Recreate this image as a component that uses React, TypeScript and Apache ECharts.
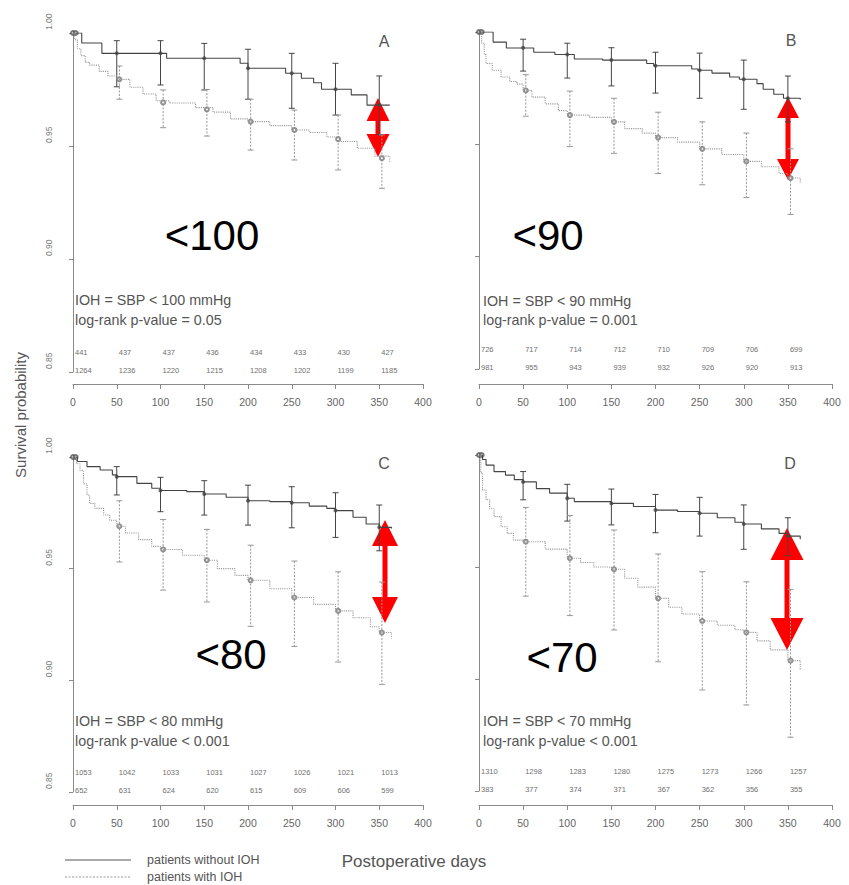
import React, { useEffect, useRef } from "react";
import * as echarts from "echarts";

// ---------- data ----------
const xTicks = [0, 50, 100, 150, 200, 250, 300, 350, 400];
const riskDays = [0, 50, 100, 150, 200, 250, 300, 350];
const ciDays = [50, 100, 150, 200, 250, 300, 350];
const yTicks = [0.85, 0.9, 0.95, 1.0];

// Panel A (SBP < 100)
const aNoCurve = [[0, 1], [10, 0.9956], [33, 0.991], [107, 0.9888], [191, 0.9866], [200, 0.9844], [243, 0.9822], [261, 0.98], [275, 0.978], [284, 0.9751], [318, 0.9726], [336, 0.9681], [362, 0.9681]];
const aIohCurve = [[0, 1], [2, 0.997], [5, 0.993], [9, 0.99], [14, 0.987], [19, 0.9858], [30, 0.983], [40, 0.981], [50, 0.9795], [65, 0.976], [80, 0.973], [95, 0.97], [110, 0.969], [140, 0.967], [160, 0.965], [180, 0.962], [200, 0.9608], [225, 0.959], [250, 0.9571], [270, 0.956], [290, 0.954], [305, 0.952], [325, 0.949], [345, 0.9455], [362, 0.943]];
const aNoEst = [0.991, 0.991, 0.9888, 0.9844, 0.9822, 0.9751, 0.9681];
const aNoLo = [0.9762, 0.977, 0.9748, 0.9707, 0.9667, 0.9637, 0.955];
const aNoHi = [0.9966, 0.9966, 0.9954, 0.9928, 0.991, 0.9866, 0.981];
const aIohEst = [0.9795, 0.9693, 0.9662, 0.9608, 0.9571, 0.953, 0.9446];
const aIohLo = [0.9707, 0.9581, 0.9544, 0.9482, 0.9438, 0.9394, 0.9313];
const aIohHi = [0.9854, 0.9748, 0.975, 0.9707, 0.9659, 0.9637, 0.9549];
const aRiskNo = [441, 437, 437, 436, 434, 433, 430, 427];
const aRiskIoh = [1264, 1236, 1220, 1215, 1208, 1202, 1199, 1185];

// Panel B (SBP < 90)
const bNoCurve = [[0, 1], [16, 0.9955], [31, 0.9929], [62, 0.991], [86, 0.99], [108, 0.988], [140, 0.9875], [190, 0.986], [198, 0.985], [241, 0.9835], [248, 0.983], [264, 0.9817], [284, 0.98], [295, 0.979], [315, 0.977], [322, 0.9745], [334, 0.9723], [345, 0.9705], [364, 0.9698]];
const bIohCurve = [[0, 1], [3, 0.995], [6, 0.99], [8, 0.986], [15, 0.983], [25, 0.98], [35, 0.978], [43, 0.9768], [50, 0.974], [60, 0.971], [75, 0.968], [90, 0.965], [100, 0.963], [125, 0.962], [150, 0.96], [165, 0.957], [185, 0.955], [200, 0.953], [225, 0.951], [250, 0.948], [275, 0.9455], [300, 0.9424], [320, 0.94], [340, 0.937], [350, 0.935], [364, 0.933]];
const bNoEst = [0.993, 0.99, 0.9875, 0.985, 0.983, 0.979, 0.9705];
const bNoLo = [0.9826, 0.9795, 0.976, 0.9728, 0.9705, 0.9656, 0.96];
const bNoHi = [0.9968, 0.995, 0.993, 0.991, 0.9906, 0.9875, 0.9804];
const bIohEst = [0.974, 0.963, 0.96, 0.953, 0.948, 0.9424, 0.935];
const bIohLo = [0.9625, 0.949, 0.946, 0.937, 0.932, 0.9263, 0.9188];
const bIohHi = [0.981, 0.9737, 0.9705, 0.9643, 0.96, 0.955, 0.948];
const bRiskNo = [726, 717, 714, 712, 710, 709, 706, 699];
const bRiskIoh = [981, 955, 943, 939, 932, 926, 920, 913];

// Panel C (SBP < 80)
const cNoCurve = [[0, 1], [5, 0.998], [16, 0.9957], [31, 0.9942], [45, 0.992], [50, 0.9912], [73, 0.9882], [90, 0.986], [100, 0.985], [130, 0.9845], [150, 0.9834], [175, 0.982], [200, 0.9804], [225, 0.98], [250, 0.9795], [270, 0.978], [290, 0.977], [300, 0.976], [320, 0.973], [335, 0.97], [350, 0.9685], [364, 0.968]];
const cIohCurve = [[0, 1], [4, 0.997], [8, 0.994], [12, 0.988], [16, 0.983], [19, 0.9792], [25, 0.977], [35, 0.974], [42, 0.9717], [50, 0.969], [60, 0.966], [75, 0.963], [90, 0.96], [100, 0.9586], [125, 0.956], [150, 0.9538], [165, 0.95], [185, 0.947], [200, 0.9448], [225, 0.941], [250, 0.9371], [275, 0.934], [300, 0.9311], [320, 0.928], [340, 0.924], [350, 0.9214], [364, 0.9187]];
const cNoEst = [0.9912, 0.985, 0.9834, 0.9804, 0.9795, 0.976, 0.9685];
const cNoLo = [0.983, 0.9755, 0.974, 0.9695, 0.9683, 0.964, 0.958];
const cNoHi = [0.9957, 0.9909, 0.9894, 0.9874, 0.9867, 0.984, 0.9785];
const cIohEst = [0.969, 0.9586, 0.9538, 0.9448, 0.9371, 0.9311, 0.9214];
const cIohLo = [0.953, 0.9404, 0.9351, 0.9242, 0.9152, 0.9082, 0.8982];
const cIohHi = [0.9804, 0.972, 0.9676, 0.9605, 0.9534, 0.9486, 0.944];
const cRiskNo = [1053, 1042, 1033, 1031, 1027, 1026, 1021, 1013];
const cRiskIoh = [652, 631, 624, 620, 615, 609, 606, 599];

// Panel D (SBP < 70)
const dNoCurve = [[0, 1], [4, 0.998], [8, 0.9955], [17, 0.9926], [30, 0.991], [40, 0.989], [50, 0.988], [65, 0.985], [80, 0.983], [100, 0.9807], [108, 0.9792], [150, 0.9784], [175, 0.977], [200, 0.9754], [225, 0.9748], [250, 0.974], [270, 0.972], [290, 0.97], [300, 0.9692], [320, 0.967], [340, 0.965], [350, 0.9638], [364, 0.9624]];
const dIohCurve = [[0, 1], [2, 0.992], [4, 0.9844], [8, 0.98], [12, 0.976], [17, 0.9725], [25, 0.968], [32, 0.965], [39, 0.962], [50, 0.9613], [75, 0.958], [100, 0.9539], [115, 0.952], [130, 0.95], [150, 0.949], [165, 0.945], [180, 0.941], [200, 0.936], [215, 0.932], [230, 0.929], [250, 0.9259], [270, 0.924], [290, 0.922], [300, 0.9208], [315, 0.917], [330, 0.913], [350, 0.9082], [364, 0.904]];
const dNoEst = [0.988, 0.9807, 0.9784, 0.9754, 0.974, 0.9692, 0.9638];
const dNoLo = [0.98, 0.9705, 0.9688, 0.9653, 0.9638, 0.9579, 0.955];
const dNoHi = [0.9926, 0.9869, 0.9848, 0.9824, 0.9811, 0.9777, 0.972];
const dIohEst = [0.9613, 0.9539, 0.949, 0.936, 0.9259, 0.9208, 0.9082];
const dIohLo = [0.937, 0.9283, 0.9219, 0.9077, 0.8951, 0.8884, 0.874];
const dIohHi = [0.9766, 0.973, 0.9665, 0.9558, 0.9479, 0.9434, 0.94];
const dRiskNo = [1310, 1298, 1283, 1280, 1275, 1273, 1266, 1257];
const dRiskIoh = [383, 377, 374, 371, 367, 362, 356, 355];

const letters = ["A", "B", "C", "D"];
const thresholds = ["<100", "<90", "<80", "<70"];
const iohTexts = ["IOH = SBP < 100 mmHg", "IOH = SBP < 90 mmHg", "IOH = SBP < 80 mmHg", "IOH = SBP < 70 mmHg"];
const pTexts = ["log-rank p-value = 0.05", "log-rank p-value = 0.001", "log-rank p-value < 0.001", "log-rank p-value < 0.001"];
const legendLabels = ["patients without IOH", "patients with IOH"];
const xTitle = "Postoperative days";
const yTitle = "Survival probability";

// ---------- layout ----------
const FONT = '"Liberation Sans", Arial, sans-serif';
const layout = [
  { left: 73, top: 33, width: 350, height: 339, yOff: 13, xOff: 12, yLabels: true },
  { left: 479, top: 32, width: 353, height: 337, yOff: 11, xOff: 15, yLabels: false },
  { left: 73, top: 457, width: 350, height: 335, yOff: 13, xOff: 13, yLabels: true },
  { left: 479, top: 455, width: 353, height: 336, yOff: 11, xOff: 14, yLabels: false },
];
const textPos = [
  { x: 75, y1: 300, y2: 320, lx: 384, ly: 41, bx: 212, by: 235, arrow: [378, 98, 157, 23, 23] },
  { x: 483, y1: 301, y2: 320, lx: 791, ly: 40, bx: 548, by: 235, arrow: [788, 97, 180, 22, 21] },
  { x: 75, y1: 721, y2: 741, lx: 384, ly: 463, bx: 231, by: 654, arrow: [385, 520, 623, 26, 26] },
  { x: 483, y1: 721, y2: 741, lx: 790, ly: 463, bx: 562, by: 657, arrow: [787, 528, 650, 33, 32] },
];

const panels = [
  { no: aNoCurve, ioh: aIohCurve, noEst: aNoEst, noLo: aNoLo, noHi: aNoHi, iohEst: aIohEst, iohLo: aIohLo, iohHi: aIohHi, rNo: aRiskNo, rIoh: aRiskIoh },
  { no: bNoCurve, ioh: bIohCurve, noEst: bNoEst, noLo: bNoLo, noHi: bNoHi, iohEst: bIohEst, iohLo: bIohLo, iohHi: bIohHi, rNo: bRiskNo, rIoh: bRiskIoh },
  { no: cNoCurve, ioh: cIohCurve, noEst: cNoEst, noLo: cNoLo, noHi: cNoHi, iohEst: cIohEst, iohLo: cIohLo, iohHi: cIohHi, rNo: cRiskNo, rIoh: cRiskIoh },
  { no: dNoCurve, ioh: dIohCurve, noEst: dNoEst, noLo: dNoLo, noHi: dNoHi, iohEst: dIohEst, iohLo: dIohLo, iohHi: dIohHi, rNo: dRiskNo, rIoh: dRiskIoh },
];

const NO_COLOR = "#454545";
const IOH_COLOR = "#969696";
const IOH_SHIFT = 3;

function errorBarSeries(idx: number, est: number[], lo: number[], hi: number[], shift: number, color: string, dash: boolean) {
  return {
    type: "custom",
    xAxisIndex: idx,
    yAxisIndex: idx,
    clip: false,
    silent: true,
    data: ciDays.map((d, i) => [d + shift, est[i], lo[i], hi[i]]),
    encode: { x: 0, y: [1, 2, 3] },
    renderItem: (params: any, api: any) => {
      const x = api.value(0);
      const top = api.coord([x, api.value(3)]);
      const bot = api.coord([x, api.value(2)]);
      const style = { stroke: color, lineWidth: 1, lineDash: dash ? [2, 1.5] : null };
      const cap = 3;
      return {
        type: "group",
        children: [
          { type: "line", shape: { x1: top[0], y1: top[1], x2: bot[0], y2: bot[1] }, style },
          { type: "line", shape: { x1: top[0] - cap, y1: top[1], x2: top[0] + cap, y2: top[1] }, style: { stroke: color, lineWidth: 1 } },
          { type: "line", shape: { x1: bot[0] - cap, y1: bot[1], x2: bot[0] + cap, y2: bot[1] }, style: { stroke: color, lineWidth: 1 } },
        ],
      };
    },
  };
}

function riskSeries(idx: number, rNo: number[], rIoh: number[]) {
  const data: number[][] = [];
  riskDays.forEach((d, i) => {
    data.push([d, 0.85, rNo[i], 0]);
    data.push([d, 0.85, rIoh[i], 1]);
  });
  return {
    type: "custom",
    xAxisIndex: idx,
    yAxisIndex: idx,
    clip: false,
    silent: true,
    data,
    encode: { x: 0, y: 1 },
    renderItem: (params: any, api: any) => {
      const p = api.coord([api.value(0), api.value(1)]);
      const row = api.value(3);
      return {
        type: "text",
        x: p[0] + 2,
        y: p[1] - 20 + row * 18,
        style: {
          text: String(api.value(2)),
          fill: "#707070",
          fontSize: 7.5,
          fontFamily: FONT,
          align: "left",
          verticalAlign: "middle",
        },
      };
    },
  };
}

function arrowPoints(cx: number, y1: number, y2: number, w: number, h: number) {
  const s = 2.5;
  return [
    [cx, y1], [cx + w / 2, y1 + h], [cx + s, y1 + h], [cx + s, y2 - h], [cx + w / 2, y2 - h],
    [cx, y2], [cx - w / 2, y2 - h], [cx - s, y2 - h], [cx - s, y1 + h], [cx - w / 2, y1 + h],
  ];
}

function buildOption() {
  const grid = layout.map((l) => ({ left: l.left, top: l.top, width: l.width, height: l.height, containLabel: false }));
  const xAxis = layout.map((l, i) => ({
    type: "value",
    gridIndex: i,
    min: xTicks[0],
    max: xTicks[xTicks.length - 1],
    interval: 50,
    offset: l.xOff,
    axisLine: { show: true, lineStyle: { color: "#8a8a8a", width: 1 } },
    axisTick: { show: true, length: 5, lineStyle: { color: "#8a8a8a" } },
    axisLabel: { show: true, color: "#666", fontSize: 10.5, fontFamily: FONT, margin: 12, formatter: (v: number) => String(v) },
    splitLine: { show: false },
  }));
  const yAxis = layout.map((l, i) => ({
    type: "value",
    gridIndex: i,
    min: yTicks[0],
    max: yTicks[yTicks.length - 1],
    interval: 0.05,
    offset: l.yOff,
    axisLine: { show: true, lineStyle: { color: "#8a8a8a", width: 1 } },
    axisTick: { show: true, length: 4, lineStyle: { color: "#8a8a8a" } },
    axisLabel: {
      show: l.yLabels,
      rotate: 90,
      color: "#7a7a7a",
      fontSize: 8.5,
      fontFamily: FONT,
      margin: 7,
      align: "left",
      padding: [0, 0, 0, 3],
      formatter: (v: number) => v.toFixed(2),
    },
    splitLine: { show: false },
  }));

  const series: any[] = [];
  panels.forEach((p, i) => {
    series.push({
      type: "line", xAxisIndex: i, yAxisIndex: i, step: "end", data: p.no, showSymbol: false, silent: true,
      lineStyle: { color: NO_COLOR, width: 1.1 },
    });
    series.push({
      type: "line", xAxisIndex: i, yAxisIndex: i, step: "end", data: p.ioh, showSymbol: false, silent: true,
      lineStyle: { color: IOH_COLOR, width: 1.1, type: "dotted" },
    });
    series.push(errorBarSeries(i, p.noEst, p.noLo, p.noHi, 0, NO_COLOR, false));
    series.push(errorBarSeries(i, p.iohEst, p.iohLo, p.iohHi, IOH_SHIFT, IOH_COLOR, true));
    series.push({
      type: "scatter", xAxisIndex: i, yAxisIndex: i, symbol: "circle", symbolSize: 4, silent: true,
      itemStyle: { color: NO_COLOR },
      data: ciDays.map((d, k) => [d, p.noEst[k]]),
    });
    series.push({
      type: "scatter", xAxisIndex: i, yAxisIndex: i, symbol: "emptyCircle", symbolSize: 4, silent: true,
      itemStyle: { color: "#777", borderColor: "#777", borderWidth: 1 },
      data: ciDays.map((d, k) => [d + IOH_SHIFT, p.iohEst[k]]),
    });
    series.push({
      type: "scatter", xAxisIndex: i, yAxisIndex: i, symbol: "emptyCircle", symbolSize: 4, silent: true,
      itemStyle: { color: "#555", borderColor: "#555", borderWidth: 1 },
      data: [p.no[0], [p.no[0][0] + 3, p.no[0][1]]],
    });
    series.push(riskSeries(i, p.rNo, p.rIoh));
  });

  const graphic: any[] = [];
  textPos.forEach((t, i) => {
    graphic.push({ type: "text", x: t.x, y: t.y1, style: { text: iohTexts[i], fill: "#555", fontSize: 14.3, fontFamily: FONT, align: "left", verticalAlign: "middle" } });
    graphic.push({ type: "text", x: t.x, y: t.y2, style: { text: pTexts[i], fill: "#555", fontSize: 14.3, fontFamily: FONT, align: "left", verticalAlign: "middle" } });
    graphic.push({ type: "text", x: t.lx, y: t.ly, style: { text: letters[i], fill: "#555", fontSize: 16, fontFamily: FONT, align: "center", verticalAlign: "middle" } });
    graphic.push({ type: "text", x: t.bx, y: t.by, style: { text: thresholds[i], fill: "#000", fontSize: 42, fontFamily: FONT, align: "center", verticalAlign: "middle" } });
    const [cx, y1, y2, w, h] = t.arrow;
    graphic.push({ type: "polygon", shape: { points: arrowPoints(cx, y1, y2, w, h) }, style: { fill: "#ff0000" } });
  });
  // legend
  graphic.push({ type: "line", shape: { x1: 65, y1: 860, x2: 131, y2: 860 }, style: { stroke: "#555", lineWidth: 1 } });
  graphic.push({ type: "line", shape: { x1: 65, y1: 877, x2: 131, y2: 877 }, style: { stroke: "#999", lineWidth: 1, lineDash: [2, 1.5] } });
  graphic.push({ type: "text", x: 147, y: 860, style: { text: legendLabels[0], fill: "#555", fontSize: 12.5, fontFamily: FONT, align: "left", verticalAlign: "middle" } });
  graphic.push({ type: "text", x: 147, y: 877, style: { text: legendLabels[1], fill: "#555", fontSize: 12.5, fontFamily: FONT, align: "left", verticalAlign: "middle" } });
  graphic.push({ type: "text", x: 414, y: 861, style: { text: xTitle, fill: "#555", fontSize: 17, fontFamily: FONT, align: "center", verticalAlign: "middle" } });
  graphic.push({ type: "text", x: 20, y: 415, rotation: Math.PI / 2, style: { text: yTitle, fill: "#555", fontSize: 15, fontFamily: FONT, align: "center", verticalAlign: "middle" } });

  return {
    animation: false,
    backgroundColor: "#ffffff",
    grid,
    xAxis,
    yAxis,
    series,
    graphic,
  };
}

export default function App() {
  const ref = useRef<HTMLDivElement>(null);
  useEffect(() => {
    if (!ref.current) return;
    const chart = echarts.init(ref.current, undefined, { renderer: "svg" });
    chart.setOption(buildOption() as any);
    return () => chart.dispose();
  }, []);
  return <div ref={ref} style={{ position: "absolute", left: 0, top: 0, width: 849, height: 885 }} />;
}
